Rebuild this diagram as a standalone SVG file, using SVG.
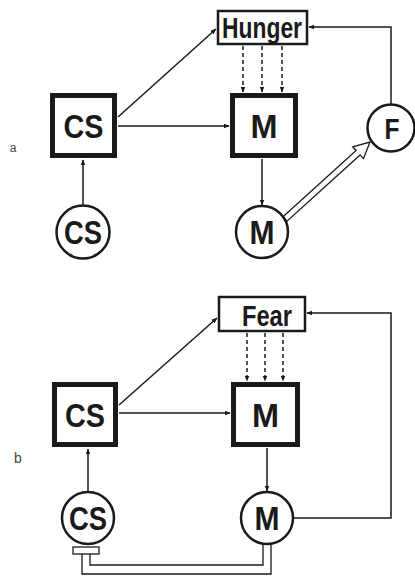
<svg xmlns="http://www.w3.org/2000/svg" width="415" height="581" viewBox="0 0 415 581">
<defs>
<style>
.sq{fill:#fff;stroke:#1a1a1a;stroke-width:5}
.ci{fill:#fff;stroke:#1a1a1a;stroke-width:2.5}
.bx{fill:#fff;stroke:#1a1a1a;stroke-width:2.5}
.t{font-family:"Liberation Sans",Arial,sans-serif;font-weight:bold;fill:#1a1a1a;text-anchor:middle}
.lb{font-family:"Liberation Sans",Arial,sans-serif;fill:#444;text-anchor:middle}
.ln{fill:none;stroke:#1a1a1a;stroke-width:1.5}
.da{fill:none;stroke:#1a1a1a;stroke-width:1.5;stroke-dasharray:4,3}
.dl{fill:none;stroke:#1a1a1a;stroke-width:1.3}
</style>
<marker id="ah" viewBox="0 0 10 10" refX="9" refY="5" markerWidth="6" markerHeight="6" orient="auto" markerUnits="userSpaceOnUse">
<path d="M0,1 L10,5 L0,9 Z" fill="#1a1a1a"/>
</marker>
</defs>
<g id="connectors">
<!-- panel a -->
<line class="ln" x1="83" y1="205" x2="83" y2="160" marker-end="url(#ah)"/>
<line class="ln" x1="118" y1="126" x2="229" y2="126" marker-end="url(#ah)"/>
<line class="ln" x1="118" y1="117" x2="216" y2="29" marker-end="url(#ah)"/>
<line class="da" x1="243" y1="46" x2="243" y2="92" marker-end="url(#ah)"/>
<line class="da" x1="262" y1="46" x2="262" y2="92" marker-end="url(#ah)"/>
<line class="da" x1="282" y1="46" x2="282" y2="92" marker-end="url(#ah)"/>
<line class="ln" x1="262" y1="159" x2="262" y2="205" marker-end="url(#ah)"/>
<polyline class="ln" points="391,104 391,27 309,27" marker-end="url(#ah)"/>
<polygon class="dl" fill="#fff" points="283,216.8 356.1,150.5 352.7,146.8 370,142 363.5,158.6 360.1,154.9 287,221.2"/>
<!-- panel b -->
<line class="ln" x1="88" y1="491" x2="88" y2="449" marker-end="url(#ah)"/>
<line class="ln" x1="119" y1="413" x2="230" y2="413" marker-end="url(#ah)"/>
<line class="ln" x1="119" y1="405" x2="217" y2="318" marker-end="url(#ah)"/>
<line class="da" x1="247" y1="333" x2="247" y2="381" marker-end="url(#ah)"/>
<line class="da" x1="265" y1="333" x2="265" y2="381" marker-end="url(#ah)"/>
<line class="da" x1="283" y1="333" x2="283" y2="381" marker-end="url(#ah)"/>
<line class="ln" x1="267" y1="448" x2="267" y2="491" marker-end="url(#ah)"/>
<polyline class="ln" points="294,518 391,518 391,313 307,313" marker-end="url(#ah)"/>
<polyline class="dl" points="263,544 263,565 90,565 90,554"/>
<polyline class="dl" points="271,543 271,574 82,574 82,554"/>
<rect class="dl" fill="#fff" x="73" y="547" width="26" height="7"/>
</g>
<g id="label-a"><text class="lb" x="13" y="152" font-size="12">a</text></g>
<g id="label-b"><text class="lb" x="18" y="463" font-size="14">b</text></g>
<g id="hunger">
<rect class="bx" x="218" y="11" width="89" height="33"/>
<text class="t" x="262" y="38" font-size="30" textLength="80" lengthAdjust="spacingAndGlyphs">Hunger</text>
</g>
<g id="cs-square-a">
<rect class="sq" x="52.5" y="95.5" width="62" height="60"/>
<text class="t" x="83.5" y="138" font-size="34" textLength="40" lengthAdjust="spacingAndGlyphs">CS</text>
</g>
<g id="m-square-a">
<rect class="sq" x="232.5" y="95.5" width="63" height="60"/>
<text class="t" x="264" y="138" font-size="34" textLength="27" lengthAdjust="spacingAndGlyphs">M</text>
</g>
<g id="f-circle">
<circle class="ci" cx="391" cy="128" r="23.5"/>
<text class="t" x="392" y="139" font-size="30" textLength="15" lengthAdjust="spacingAndGlyphs">F</text>
</g>
<g id="cs-circle-a">
<circle class="ci" cx="83" cy="232" r="26.5"/>
<text class="t" x="83" y="244" font-size="33" textLength="38" lengthAdjust="spacingAndGlyphs">CS</text>
</g>
<g id="m-circle-a">
<circle class="ci" cx="262" cy="232" r="26"/>
<text class="t" x="262" y="244" font-size="33" textLength="25" lengthAdjust="spacingAndGlyphs">M</text>
</g>
<g id="fear">
<rect class="bx" x="219" y="297" width="86" height="34"/>
<text class="t" x="267" y="326" font-size="29" textLength="50" lengthAdjust="spacingAndGlyphs">Fear</text>
</g>
<g id="cs-square-b">
<rect class="sq" x="54.5" y="384.5" width="61" height="60"/>
<text class="t" x="85" y="427" font-size="34" textLength="40" lengthAdjust="spacingAndGlyphs">CS</text>
</g>
<g id="m-square-b">
<rect class="sq" x="233.5" y="384.5" width="64" height="60"/>
<text class="t" x="265.5" y="427" font-size="34" textLength="27" lengthAdjust="spacingAndGlyphs">M</text>
</g>
<g id="cs-circle-b">
<circle class="ci" cx="88" cy="518" r="26"/>
<text class="t" x="88" y="530" font-size="33" textLength="38" lengthAdjust="spacingAndGlyphs">CS</text>
</g>
<g id="m-circle-b">
<circle class="ci" cx="267" cy="518" r="26"/>
<text class="t" x="267" y="530" font-size="33" textLength="25" lengthAdjust="spacingAndGlyphs">M</text>
</g>
</svg>
